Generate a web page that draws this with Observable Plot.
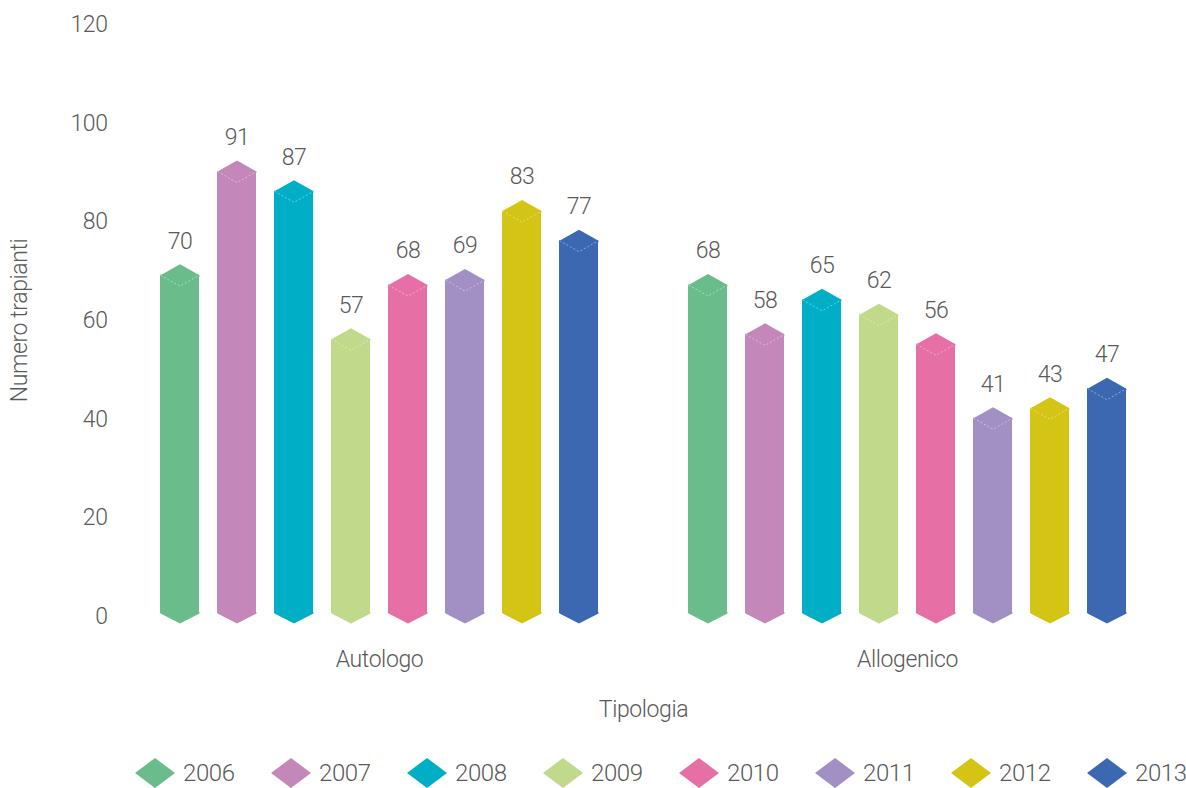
<!DOCTYPE html>
<html>
<head>
<meta charset="utf-8">
<script src="https://cdn.jsdelivr.net/npm/d3@7"></script>
<script src="https://cdn.jsdelivr.net/npm/@observablehq/plot@0.6"></script>
<style>
  html, body { margin: 0; padding: 0; background: #ffffff; }
  body { width: 1186px; height: 788px; overflow: hidden; position: relative;
         font-family: Roboto, "Liberation Sans Narrow", "DejaVu Sans Condensed", sans-serif;
         font-weight: 300; color: #595959; }
  #chart { position: absolute; left: 0; top: 0; }
  #legend { position: absolute; left: 135px; top: 758px; height: 30px; display: flex; align-items: center; }
  .item { display: flex; align-items: center; width: 136px; font-size: 24px; line-height: 28px; letter-spacing: -0.4px; }
  .item svg { margin-right: 8px; flex: none; }
</style>
</head>
<body>
<div id="chart"></div>
<div id="legend"></div>
<script>
// ---- data ----
const types = ["Autologo", "Allogenico"];
const years = ["2006", "2007", "2008", "2009", "2010", "2011", "2012", "2013"];
const autologo = [70, 91, 87, 57, 68, 69, 83, 77];
const allogenico = [68, 58, 65, 62, 56, 41, 43, 47];
const colors = ["#6abd8a", "#c387b9", "#00aec5", "#c1d98a", "#e66fa5", "#a28fc3", "#d4c416", "#3c68b1"];
const yTicks = [0, 20, 40, 60, 80, 100, 120];

const rows = [];
types.forEach((t, ti) => {
  const vals = ti === 0 ? autologo : allogenico;
  years.forEach((y, i) => rows.push({type: t, year: y, value: vals[i]}));
});

const textColor = "#595959";
const fontFamily = 'Roboto, "Liberation Sans Narrow", "DejaVu Sans Condensed", sans-serif';

const base = {
  width: 1186,
  height: 748,
  marginTop: 24,
  marginBottom: 132,
  marginLeft: 115,
  marginRight: 15,
  facet: {data: rows, x: "type"},
  fx: {domain: types, padding: 0, axis: "bottom", tickSize: 0, tickPadding: 34,
       label: "Tipologia", labelAnchor: "center", labelOffset: 100},
  x: {domain: years, paddingInner: 0.317, paddingOuter: 0.78, axis: null},
  y: {domain: [0, 120], ticks: yTicks, tickSize: 0, tickPadding: 8,
      label: "Numero trapianti", labelArrow: "none", labelAnchor: "center", labelOffset: 105},
  color: {domain: years, range: colors},
  style: {fontFamily, fontSize: "23px", fontWeight: 300, letterSpacing: "-0.4px",
          color: textColor, background: "#ffffff", overflow: "visible"}
};

// probe to get the band width of the inner x scale
const probe = Plot.plot({...base, marks: [Plot.barY(rows, {x: "year", y: "value"})]});
const xs = probe.scale("x");
const bw = (xs && xs.bandwidth) ? xs.bandwidth : 39;
const hw = bw / 2;
const capH = 11;   // height of half the top rhombus
const topOff = 4;  // body top sits this much below the value

const capSymbol = {draw(ctx) {
  ctx.moveTo(-hw, topOff + 1.5);
  ctx.lineTo(-hw, topOff);
  ctx.lineTo(0, topOff - capH);
  ctx.lineTo(hw, topOff);
  ctx.lineTo(hw, topOff + 1.5);
  ctx.closePath();
}};
const vSymbol = {draw(ctx) {
  ctx.moveTo(-hw, topOff);
  ctx.lineTo(0, topOff + capH);
  ctx.lineTo(hw, topOff);
}};
const baseSymbol = {draw(ctx) {
  ctx.moveTo(-hw, -4.5);
  ctx.lineTo(-hw, -3);
  ctx.lineTo(0, 7);
  ctx.lineTo(hw, -3);
  ctx.lineTo(hw, -4.5);
  ctx.closePath();
}};

const chart = Plot.plot({
  ...base,
  marks: [
    Plot.barY(rows, {x: "year", y: "value", fill: "year", insetTop: topOff, insetBottom: 3}),
    Plot.dot(rows, {x: "year", y: "value", fill: "year", symbol: capSymbol, r: 10}),
    Plot.dot(rows, {x: "year", y: 0, fill: "year", symbol: baseSymbol, r: 10}),
    Plot.dot(rows, {x: "year", y: "value", fill: "none", stroke: "#ffffff", strokeOpacity: 0.55,
                    strokeWidth: 0.8, strokeDasharray: "2,2", symbol: vSymbol, r: 10}),
    Plot.text(rows, {x: "year", y: "value", text: d => String(d.value), dy: -30,
                     fill: textColor, fontSize: 23})
  ]
});
document.getElementById("chart").appendChild(chart);

// ---- legend ----
const legend = document.getElementById("legend");
years.forEach((y, i) => {
  const item = document.createElement("div");
  item.className = "item";
  item.innerHTML = `<svg width="40" height="30" viewBox="0 0 40 30"><path d="M0,15L20,0L40,15L20,30Z" fill="${colors[i]}"/></svg><span>${y}</span>`;
  legend.appendChild(item);
});
</script>
</body>
</html>
